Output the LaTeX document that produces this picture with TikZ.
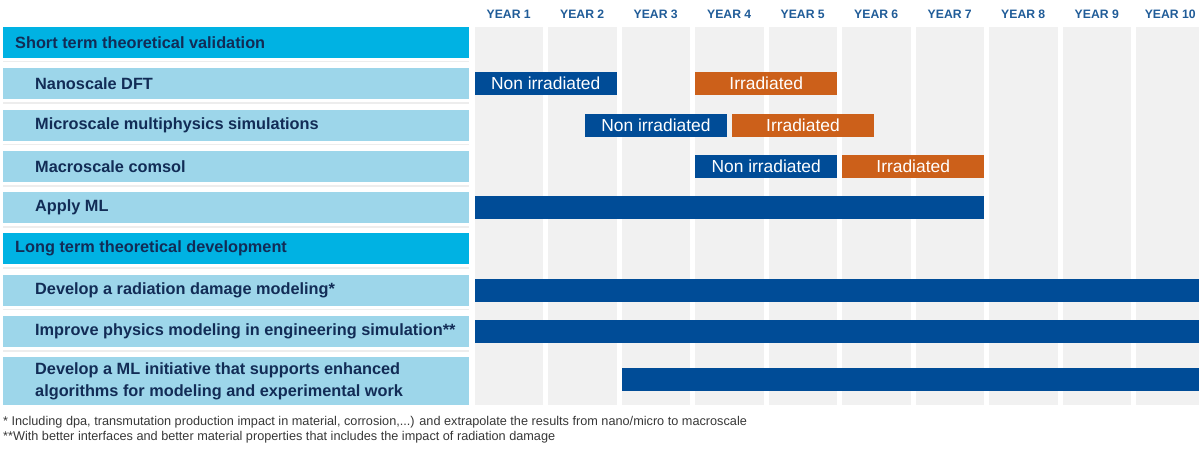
\documentclass[tikz,border=0pt]{standalone}
\usepackage{fontspec}
\setmainfont{Liberation Sans}
\definecolor{headcyan}{RGB}{0,178,227}
\definecolor{rowblue}{RGB}{157,214,234}
\definecolor{navytext}{RGB}{18,44,86}
\definecolor{ganttblue}{RGB}{0,76,151}
\definecolor{ganttorange}{RGB}{204,96,26}
\definecolor{colgray}{RGB}{241,241,241}
\definecolor{yearblue}{RGB}{32,92,152}
\definecolor{notegray}{RGB}{55,55,55}
\tikzset{
  headbar/.style={fill=headcyan, anchor=north west, minimum width=466pt, minimum height=31pt, inner sep=0pt},
  taskbar/.style={headbar, fill=rowblue},
  bartext/.style={anchor=west, inner sep=0pt, text=navytext, font=\bfseries\fontsize{16.3}{22}\selectfont, align=left},
  yearcol/.style={fill=colgray, anchor=north west, minimum width=68.5pt, minimum height=378pt, inner sep=0pt},
  yearlabel/.style={text=yearblue, font=\bfseries\fontsize{12.2}{14}\selectfont, inner sep=0pt},
  gblue/.style={fill=ganttblue, text=white, minimum height=23pt, inner sep=0pt, font=\fontsize{17.4}{19}\selectfont},
  gorange/.style={gblue, fill=ganttorange},
  note/.style={anchor=west, inner sep=0pt, text=notegray, font=\fontsize{12.7}{14}\selectfont},
  sepline/.style={draw=black!7, line width=1.5pt}
}
\newcommand{\leftrow}[5][taskbar]{% [style] {name} {top} {indent} {text}
  \node[#1] (#2) at (3,#3) {};
  \node[bartext] (#2txt) at ([xshift=#4 pt]#2.west) {#5};
}
\newcommand{\gbar}[6][gblue]{% [style] {name} {centre} {from year} {to year} {text}
  \pgfmathsetmacro{\gxa}{474.5+#4*73.5}%
  \pgfmathsetmacro{\gxb}{min(474.5+#5*73.5-5,1199)}%
  \pgfmathsetmacro{\gbw}{\gxb-\gxa}%
  \node[#1, minimum width=\gbw pt, anchor=west] (#2) at (\gxa,#3) {#6};
}

\begin{document}
\begin{tikzpicture}[x=1pt, y=-1pt]
\useasboundingbox (0,0) rectangle (1199,448);
% year columns
\foreach \y in {1,...,10} {
  \pgfmathsetmacro{\cx}{474.5+(\y-1)*73.5}
  \node[yearcol] (col\y) at (\cx,27) {};
  \node[yearlabel] (year\y) at (\cx+34.25,14) {YEAR \y};
}
% faint rules between the left bars
\foreach \s in {61.5,103,144.5,186,227,268,309.5,351}
  \draw[sepline] (3,\s) -- (469,\s);
% left bars
\leftrow[headbar]{short}{27}{12}{Short term theoretical validation}
\leftrow{nano}{68}{32}{Nanoscale DFT}
\leftrow{micro}{109.5}{32}{Microscale multiphysics simulations}
\leftrow{macro}{151}{32}{Macroscale comsol}
\leftrow{applyml}{192}{32}{Apply ML}
\leftrow[headbar]{long}{233}{12}{Long term theoretical development}
\leftrow{raddmg}{274.5}{32}{Develop a radiation damage modeling*}
\leftrow{physics}{316}{32}{Improve physics modeling in engineering simulation**}
\leftrow[taskbar, minimum height=48pt]{mlinit}{357}{32}{Develop a ML initiative that supports enhanced\\algorithms for modeling and experimental work}
% gantt bars
\gbar{nanoN}{83.5}{0}{2}{Non irradiated}
\gbar[gorange]{nanoI}{83.5}{3}{5}{Irradiated}
\gbar{microN}{125}{1.5}{3.5}{Non irradiated}
\gbar[gorange]{microI}{125}{3.5}{5.5}{Irradiated}
\gbar{macroN}{166.5}{3}{5}{Non irradiated}
\gbar[gorange]{macroI}{166.5}{5}{7}{Irradiated}
\gbar{applymlbar}{207.5}{0}{7}{}
\gbar{raddmgbar}{290}{0}{10}{}
\gbar{physicsbar}{331.5}{0}{10}{}
\gbar{mlinitbar}{379.5}{2}{10}{}
% footnotes
\node[note] (fn1) at (3,422) {* Including dpa, transmutation production impact in material, corrosion,...) and extrapolate the results from nano/micro to macroscale};
\node[note] (fn2) at (3,437) {**With better interfaces and better material properties that includes the impact of radiation damage};
\end{tikzpicture}
\end{document}
